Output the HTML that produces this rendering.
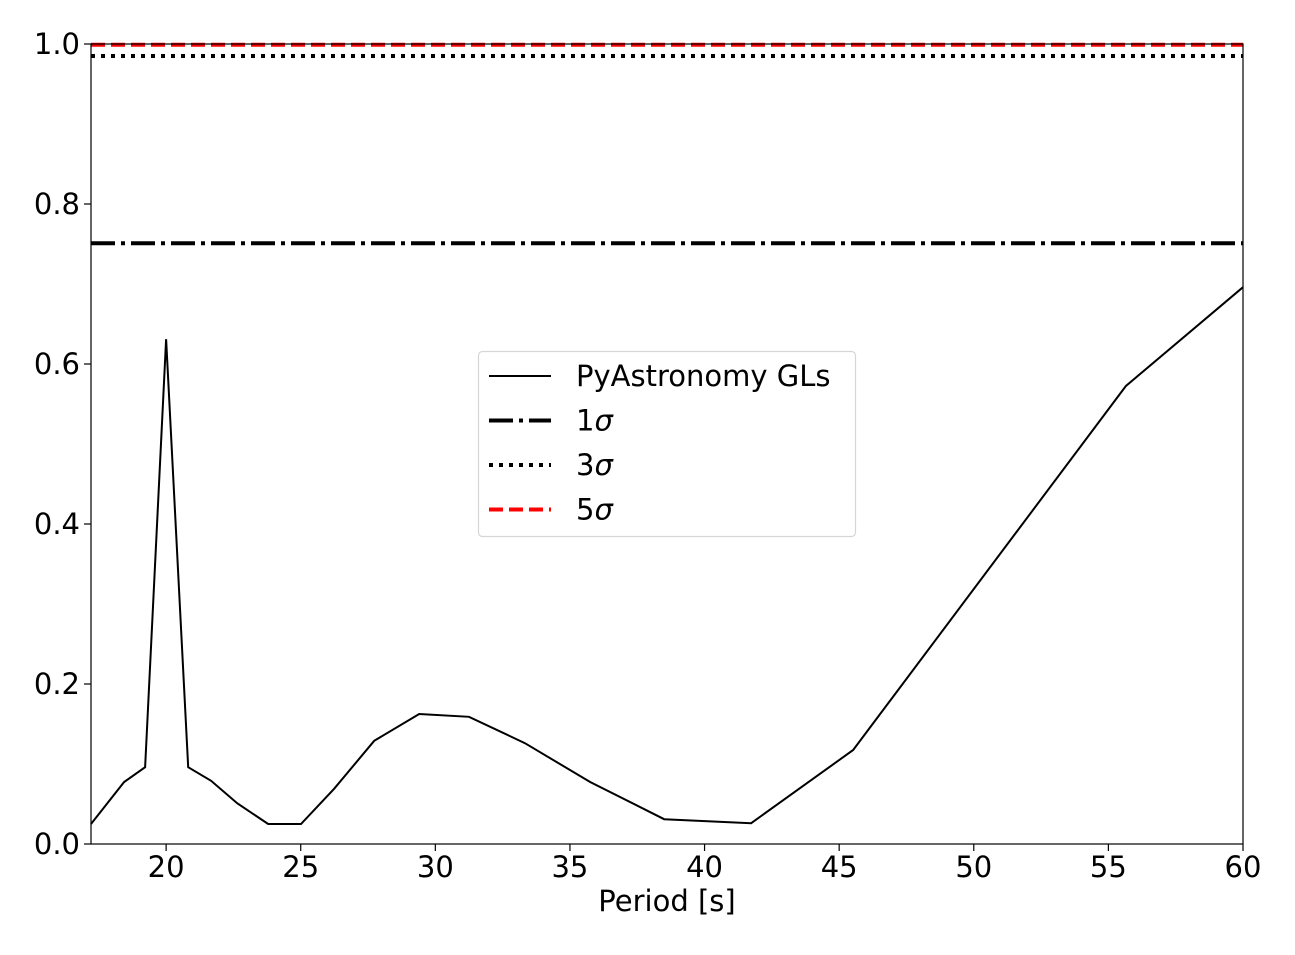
<!DOCTYPE html>
<html><head><meta charset="utf-8"><style>
body{margin:0;background:#fff;}
svg text{font-family:"DejaVu Sans","Liberation Sans",sans-serif;font-size:29px;fill:#000;}
</style></head><body>
<svg id="chart" width="1295" height="950" xmlns="http://www.w3.org/2000/svg">
<g id="marks"></g>
<g id="axes"></g>
</svg>
<script>
const periods=[17.21,18.44,19.22,20.0,20.82,21.67,22.64,23.79,25.01,26.24,27.73,29.4,31.25,33.33,35.75,38.5,41.73,45.52,55.65,60.0];
const power=[0.025,0.0775,0.096,0.631,0.096,0.079,0.051,0.025,0.025,0.069,0.129,0.1625,0.159,0.126,0.0775,0.031,0.026,0.1175,0.5725,0.696];
const sigmaLevels=[0.751,0.985,0.999];
const xTicks=[20,25,30,35,40,45,50,55,60];
const yTicks=[0.0,0.2,0.4,0.6,0.8,1.0];
const X0=91,X1=1243,Y0=844,Y1=44,xmin=17.21,xmax=60,ymin=0,ymax=1;
const sx=v=>X0+(v-xmin)/(xmax-xmin)*(X1-X0);
const sy=v=>Y0-(v-ymin)/(ymax-ymin)*(Y0-Y1);
const NS='http://www.w3.org/2000/svg';
function mk(tag,attrs,parent){const e=document.createElementNS(NS,tag);for(const k in attrs)e.setAttribute(k,attrs[k]);parent.appendChild(e);return e;}
const marks=document.getElementById('marks'),axes=document.getElementById('axes');
const styles=[{stroke:'#000',w:4,dash:'24,6,4,6',name:'sigma-1-line'},{stroke:'#000',w:4,dash:'4,6',name:'sigma-3-line'},{stroke:'#f00',w:4,dash:'14,6',name:'sigma-5-line'}];
sigmaLevels.forEach((v,i)=>{const s=styles[i];const l=mk('line',{x1:X0,x2:X1,y1:sy(v),y2:sy(v),stroke:s.stroke,'stroke-width':s.w,'stroke-dasharray':s.dash},marks);

});
const p=mk('polyline',{points:periods.map((x,i)=>sx(x)+','+sy(power[i])).join(' '),fill:'none',stroke:'#000','stroke-width':2},marks);


const fr=mk('rect',{x:X0,y:Y1,width:X1-X0,height:Y0-Y1,fill:'none',stroke:'#000','stroke-width':1.2},axes);


xTicks.forEach(t=>{const x=sx(t);mk('line',{x1:x,x2:x,y1:Y0,y2:Y0+7,stroke:'#000','stroke-width':1.2},axes);
const tx=mk('text',{x:x,y:Y0+33,'text-anchor':'middle'},axes);tx.textContent=t;

});
yTicks.forEach(t=>{const y=sy(t);mk('line',{x1:X0-7,x2:X0,y1:y,y2:y,stroke:'#000','stroke-width':1.2},axes);
const tx=mk('text',{x:X0-11,y:y+10,'text-anchor':'end'},axes);tx.textContent=t.toFixed(1);

});
const xt=mk('text',{x:(X0+X1)/2,y:911,'text-anchor':'middle'},axes);xt.textContent='Period [s]';


const lg=mk('g',{},axes);


mk('rect',{x:478.5,y:351.5,width:377,height:185,rx:4,fill:'#fff',stroke:'#d6d6d6','stroke-width':1.2},lg);
const entries=[['PyAstronomy GLs',{stroke:'#000',w:2,dash:''}],['1σ',styles[0]],['3σ',styles[1]],['5σ',styles[2]]];
entries.forEach((e,i)=>{const y=376+i*44.5;const s=e[1];
mk('line',{x1:489,x2:551,y1:y,y2:y,stroke:s.stroke,'stroke-width':s.w,'stroke-dasharray':s.dash},lg);
const t=mk('text',{x:576,y:y+10},lg);
if(i==0)t.textContent=e[0];else{t.textContent=e[0][0];const ts=mk('tspan',{'font-style':'italic'},t);ts.textContent='σ';}

});
</script>
</body></html>
